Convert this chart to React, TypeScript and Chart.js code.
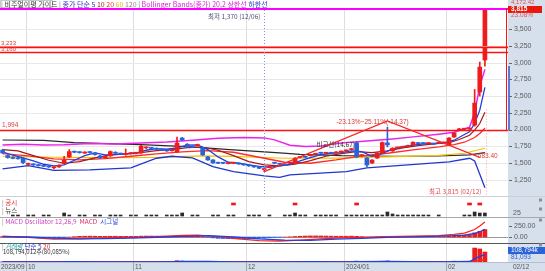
import React, { useEffect, useRef } from 'react';
import { Chart, registerables } from 'chart.js';

Chart.register(...registerables);

// ---------------- data ----------------
const dates = [
  '09/21', '09/22', '09/25', '09/26', '09/27',
  '10/02', '10/03', '10/04', '10/05', '10/06', '10/10', '10/11', '10/12', '10/13', '10/16', '10/17', '10/18', '10/19', '10/20', '10/23', '10/24', '10/25', '10/26', '10/27', '10/30', '10/31',
  '11/01', '11/02', '11/03', '11/06', '11/07', '11/08', '11/09', '11/10', '11/13', '11/14', '11/15', '11/16', '11/17', '11/20', '11/21', '11/22', '11/23', '11/24', '11/27', '11/28', '11/29', '11/30',
  '12/01', '12/04', '12/05', '12/06', '12/07', '12/08', '12/11', '12/12', '12/13', '12/14', '12/15', '12/18', '12/19', '12/20', '12/21', '12/22', '12/26', '12/27', '12/28',
  '01/04', '01/05', '01/08', '01/09', '01/10', '01/11', '01/12', '01/15', '01/16', '01/17', '01/18', '01/19', '01/22', '01/23', '01/24', '01/25', '01/26', '01/29', '01/30', '01/31',
  '02/01', '02/02', '02/05', '02/06', '02/07', '02/08', '02/09', '02/12',
];
const futureSlots = ['', '', '', ''];

const openP = [1690, 1610, 1582, 1570, 1572, 1478, 1482, 1470, 1458, 1448, 1428, 1440, 1490, 1590, 1668, 1660, 1648, 1665, 1650, 1605, 1575, 1605, 1660, 1640, 1628, 1640, 1645, 1650, 1725, 1722, 1720, 1700, 1690, 1682, 1665, 1872, 1780, 1745, 1760, 1723, 1590, 1545, 1505, 1500, 1490, 1495, 1495, 1480, 1465, 1450, 1435, 1400, 1432, 1505, 1490, 1470, 1494, 1498, 1582, 1590, 1608, 1630, 1655, 1645, 1650, 1650, 1665, 1680, 1700, 1800, 1610, 1573, 1498, 1573, 1648, 1800, 1680, 1725, 1735, 1745, 1768, 1800, 1795, 1790, 1785, 1795, 1800, 1768, 1888, 1995, 2005, 2008, 2067, 2561, 3040];
const highP = [1705, 1620, 1592, 1582, 1585, 1498, 1490, 1478, 1466, 1456, 1446, 1472, 1600, 1700, 1678, 1668, 1668, 1672, 1656, 1612, 1606, 1680, 1668, 1648, 1710, 1652, 1658, 1762, 1740, 1732, 1726, 1708, 1696, 1698, 1887, 1882, 1790, 1752, 1782, 1732, 1598, 1550, 1512, 1506, 1508, 1512, 1500, 1486, 1470, 1456, 1440, 1425, 1450, 1512, 1496, 1478, 1504, 1580, 1596, 1598, 1630, 1642, 1660, 1654, 1656, 1670, 1674, 1696, 1718, 1812, 1622, 1580, 1550, 1655, 1815, 2035, 1728, 1736, 1744, 1766, 1816, 1808, 1802, 1802, 1792, 1806, 1812, 1880, 1955, 2018, 2016, 2020, 2600, 3010, 3815];
const lowP = [1640, 1570, 1562, 1555, 1490, 1470, 1462, 1452, 1444, 1432, 1412, 1434, 1482, 1580, 1652, 1646, 1640, 1648, 1618, 1568, 1566, 1598, 1638, 1624, 1615, 1632, 1636, 1642, 1712, 1710, 1698, 1684, 1672, 1676, 1660, 1835, 1732, 1728, 1752, 1612, 1538, 1494, 1488, 1488, 1484, 1490, 1478, 1464, 1448, 1434, 1414, 1370, 1428, 1488, 1474, 1460, 1488, 1492, 1575, 1578, 1602, 1624, 1638, 1638, 1638, 1645, 1658, 1674, 1694, 1580, 1600, 1440, 1490, 1566, 1640, 1740, 1672, 1718, 1726, 1740, 1762, 1784, 1784, 1784, 1774, 1788, 1794, 1760, 1880, 1985, 1998, 2000, 2050, 2500, 2950];
const closeP = [1650, 1580, 1568, 1562, 1505, 1486, 1470, 1460, 1450, 1440, 1438, 1465, 1540, 1670, 1660, 1654, 1660, 1655, 1625, 1575, 1600, 1670, 1645, 1632, 1640, 1645, 1650, 1750, 1730, 1718, 1705, 1690, 1680, 1690, 1798, 1845, 1740, 1735, 1775, 1620, 1545, 1500, 1495, 1495, 1500, 1505, 1485, 1470, 1455, 1440, 1420, 1412, 1445, 1495, 1480, 1468, 1500, 1570, 1590, 1585, 1625, 1635, 1645, 1648, 1645, 1665, 1668, 1690, 1710, 1590, 1615, 1469, 1543, 1648, 1805, 1770, 1720, 1730, 1738, 1760, 1810, 1790, 1790, 1795, 1780, 1800, 1805, 1873, 1948, 2010, 2010, 2012, 2396, 2934, 3815];

// moving averages / bands: [candle index, value]
const ma5: [number, number][] = [[0, 1665], [2, 1615], [4, 1575], [6, 1530], [8, 1480], [10, 1455], [12, 1470], [14, 1540], [16, 1610], [18, 1650], [20, 1620], [22, 1625], [24, 1635], [26, 1645], [28, 1690], [30, 1715], [32, 1705], [34, 1725], [36, 1765], [38, 1770], [40, 1700], [42, 1590], [44, 1510], [46, 1495], [48, 1472], [50, 1448], [52, 1435], [54, 1458], [56, 1478], [58, 1530], [60, 1580], [62, 1625], [64, 1645], [66, 1655], [68, 1680], [70, 1670], [72, 1600], [74, 1640], [76, 1710], [78, 1745], [80, 1765], [82, 1785], [84, 1792], [86, 1795], [88, 1840], [90, 1925], [91, 1965], [92, 2090], [93, 2290], [94, 2630]];
const ma10: [number, number][] = [[0, 1700], [3, 1680], [6, 1610], [9, 1540], [12, 1495], [15, 1520], [18, 1575], [21, 1620], [24, 1635], [27, 1655], [30, 1685], [33, 1700], [36, 1730], [39, 1735], [42, 1690], [45, 1610], [48, 1520], [51, 1470], [54, 1455], [57, 1480], [60, 1535], [63, 1600], [66, 1640], [69, 1670], [72, 1655], [75, 1680], [78, 1725], [81, 1760], [84, 1785], [87, 1805], [89, 1850], [91, 1915], [92, 1990], [93, 2090], [94, 2260]];
const ma20: [number, number][] = [[0, 1640], [5, 1605], [10, 1560], [15, 1545], [20, 1565], [25, 1600], [30, 1635], [35, 1665], [40, 1685], [45, 1660], [50, 1585], [55, 1510], [60, 1495], [65, 1545], [70, 1605], [75, 1645], [80, 1695], [85, 1740], [88, 1775], [90, 1810], [92, 1880], [93, 1940], [94, 2020]];
const ma60: [number, number][] = [[0, 1600], [10, 1585], [20, 1578], [30, 1582], [39, 1605], [45, 1598], [55, 1570], [65, 1572], [75, 1590], [85, 1612], [90, 1645], [94, 1720]];
const ma120: [number, number][] = [[0, 1843], [8, 1838], [14, 1805], [27, 1775], [36, 1745], [45, 1695], [54, 1650], [58, 1628], [66, 1608], [76, 1600], [85, 1604], [91, 1620], [94, 1655]];
const bbUpper: [number, number][] = [[0, 1768], [4, 1780], [8, 1770], [12, 1772], [17, 1790], [22, 1785], [27, 1800], [32, 1812], [37, 1840], [42, 1868], [47, 1880], [51, 1875], [53, 1845], [56, 1765], [59, 1745], [62, 1752], [66, 1800], [71, 1830], [76, 1860], [80, 1890], [85, 1930], [88, 1958], [90, 2010], [91, 2035], [92, 2250], [93, 2650], [94, 2900]];
const bbLower: [number, number][] = [[0, 1410], [5, 1460], [10, 1390], [17, 1395], [25, 1425], [30, 1570], [33, 1600], [37, 1575], [41, 1445], [45, 1370], [51, 1305], [54, 1285], [56, 1320], [67, 1370], [71, 1425], [79, 1470], [87, 1515], [91, 1570], [92, 1530], [93, 1330], [94, 1130]];

const priceTicks = [1250, 1500, 1750, 2000, 2250, 2500, 2750, 3000, 3250, 3500];
const priceRange = [1005, 3819];
const highLine = 3815;
const resistLines = [3235, 3160];
const resistLabels = ['3,233', '3,160'];
const baseLine = 1994;
const baseLabel = '1,994';
const lowIndex = 51;
const lowText = '최저 1,370 (12/06)';
const highText = '최고 3,815 (02/12)';
const triangle: [number, number][] = [[51, 1370], [75, 2130], [93, 1583.4]];
const triangleText = '-23.13%~25.11%(-14.37)';
const compareText = '비교선(14.67)';
const triangleEndText = '583.40';

// MACD
const macdOsc = [10, 8, 5, 2, -5, -10, -15, -20, -22, -25, -25, -20, -10, 0, 8, 15, 18, 20, 18, 15, 15, 17, 18, 16, 15, 15, 15, 20, 22, 22, 20, 18, 16, 16, 25, 30, 28, 25, 20, 10, -5, -20, -30, -35, -38, -40, -40, -40, -38, -35, -30, -25, -15, -10, -5, 0, 5, 12, 18, 22, 25, 25, 24, 22, 20, 18, 18, 18, 20, 15, 8, 0, 2, 8, 15, 15, 14, 12, 12, 13, 14, 13, 12, 10, 9, 10, 10, 20, 30, 40, 45, 50, 95, 130, 170];
const macdLine: [number, number][] = [[0, 20], [5, -10], [10, -50], [15, -40], [20, -20], [25, -10], [30, 10], [35, 35], [38, 40], [42, 10], [46, -40], [50, -80], [54, -90], [58, -70], [62, -40], [66, -20], [70, -10], [75, 10], [80, 20], [85, 30], [88, 60], [90, 90], [92, 170], [93, 250], [94, 340]];
const macdSignal: [number, number][] = [[0, 10], [5, 0], [10, -25], [15, -40], [20, -35], [25, -25], [30, -5], [35, 15], [40, 30], [45, 5], [50, -40], [55, -70], [60, -75], [65, -50], [70, -30], [75, -10], [80, 5], [85, 20], [88, 30], [90, 45], [92, 80], [93, 120], [94, 175]];
const macdTicks = [0, 250];
const macdRange = [-136, 455];

// volume (thousand shares)
const volume = [2100, 2600, 1500, 1300, 3100, 1600, 1400, 1200, 1300, 1500, 1800, 2200, 6500, 4800, 1900, 1300, 1400, 1200, 1500, 2300, 1800, 3600, 1700, 1300, 2500, 1200, 1100, 5200, 2600, 1600, 1400, 1200, 1100, 1300, 14800, 11500, 4200, 2100, 2600, 5600, 4300, 3600, 1800, 1300, 1200, 1500, 1400, 1300, 1200, 1100, 1500, 2200, 2400, 2100, 1600, 1200, 1500, 4600, 2800, 1700, 2300, 1500, 1600, 1200, 1100, 1700, 1300, 1900, 2300, 9800, 2900, 5200, 3800, 4100, 8700, 11800, 3900, 1700, 1500, 1900, 4300, 2100, 1500, 1400, 1300, 1600, 1700, 7200, 9100, 5400, 3100, 3300, 152000, 142000, 108794];
const volMa5: [number, number][] = [[0, 2300], [10, 1500], [14, 3300], [20, 2000], [30, 2300], [34, 4600], [36, 7000], [40, 5600], [45, 1900], [55, 1700], [60, 2500], [66, 1400], [69, 3500], [75, 6700], [80, 2700], [86, 1500], [88, 4000], [91, 5600], [92, 34000], [93, 62000], [94, 81093]];
const volMa20: [number, number][] = [[0, 2000], [20, 2100], [40, 3200], [60, 1800], [80, 3000], [91, 3300], [92, 10800], [93, 17800], [94, 23000]];
const volMax = 207000;

// news / disclosures
const newsCount = [0, 0, 1, 1, 0, 1, 1, 0, 1, 1, 0, 0, 3, 1, 0, 1, 1, 0, 1, 1, 0, 1, 1, 1, 0, 1, 1, 0, 1, 1, 1, 0, 1, 1, 1, 3, 0, 1, 1, 0, 0, 1, 1, 0, 1, 1, 0, 0, 1, 1, 1, 0, 1, 0, 0, 1, 1, 3, 1, 1, 0, 1, 1, 1, 1, 1, 0, 1, 1, 1, 1, 1, 1, 1, 1, 4, 2, 1, 1, 1, 1, 1, 1, 1, 0, 1, 0, 0, 0, 0, 1, 1, 4, 3, 3];
const disclosureAt = [45, 57, 69, 91, 93];

const monthTickLabels = ['2023/09', '10', '11', '12', '2024/01', '02'];
const lastDateLabel = '02/12';

// ---------------- style ----------------
const W = 545;
const AXIS_W = 37;
const UP = '#ee1c1c';
const DOWN = '#2a62d8';
const AXIS_BG = '#d6e0ec';
const GRID = '#dedede';
const KF = '"Noto Sans CJK KR", "Liberation Sans", sans-serif';
const NF = '"Liberation Sans", Arial, sans-serif';

const labels = [...dates, ...futureSlots];
const candleColor = openP.map((o, i) => (closeP[i] >= o ? UP : DOWN));
const pts = (arr: [number, number][]) => arr.map(([i, v]) => ({ x: dates[i], y: v }));

function monthStarts(): number[] {
  const out: number[] = [];
  for (let i = 1; i < dates.length; i++) if (dates[i].slice(0, 2) !== dates[i - 1].slice(0, 2)) out.push(i);
  return out;
}

function frame(chart: any, gridTop?: number) {
  const { ctx, chartArea: a, scales } = chart;
  const x = scales.x;
  ctx.save();
  ctx.fillStyle = '#fff';
  ctx.fillRect(0, 0, chart.width, chart.height);
  ctx.fillStyle = AXIS_BG;
  ctx.fillRect(a.right, 0, chart.width - a.right, chart.height);
  ctx.strokeStyle = GRID;
  ctx.lineWidth = 1;
  for (const i of monthStarts()) {
    const px = Math.round((x.getPixelForValue(i - 1) + x.getPixelForValue(i)) / 2) + 0.5;
    ctx.beginPath();
    ctx.moveTo(px, gridTop ?? a.top);
    ctx.lineTo(px, a.bottom);
    ctx.stroke();
  }
  ctx.restore();
}

function text(ctx: any, s: string, x: number, y: number, color: string, font: string, align: CanvasTextAlign = 'left') {
  ctx.font = font;
  ctx.fillStyle = color;
  ctx.textAlign = align;
  ctx.textBaseline = 'middle';
  ctx.fillText(s, x, y);
}

function runs(ctx: any, x: number, y: number, parts: [string, string][], font: string) {
  ctx.font = font;
  ctx.textAlign = 'left';
  ctx.textBaseline = 'middle';
  for (const [s, c] of parts) {
    ctx.fillStyle = c;
    ctx.fillText(s, x, y);
    x += ctx.measureText(s).width;
  }
  return x;
}

function hline(ctx: any, y: number, x0: number, x1: number, color: string, w = 1) {
  ctx.strokeStyle = color;
  ctx.lineWidth = w;
  ctx.beginPath();
  ctx.moveTo(x0, y);
  ctx.lineTo(x1, y);
  ctx.stroke();
}

function square(ctx: any, y: number) {
  ctx.fillStyle = '#8a8f96';
  ctx.fillRect(539, y - 1.5, 3, 3);
}

function axisTick(ctx: any, a: any, y: number, s: string) {
  hline(ctx, Math.round(y) + 0.5, a.right + 1, a.right + 4, '#666');
  text(ctx, s, a.right + 6, y, '#5a5a5a', `7px ${NF}`);
}

const baseOptions = (pad: any, yMin: number, yMax: number) => ({
  responsive: false,
  maintainAspectRatio: false,
  animation: false as const,
  events: [] as any[],
  layout: { padding: { left: 0, top: 0, bottom: 0, right: AXIS_W, ...pad } },
  plugins: { legend: { display: false }, tooltip: { enabled: false } },
  scales: {
    x: { type: 'category' as const, offset: true, display: false },
    y: { type: 'linear' as const, display: false, min: yMin, max: yMax },
  },
});

const lineDs = (arr: [number, number][], color: string, width = 1, order = 5) => ({
  type: 'line' as const,
  data: pts(arr),
  borderColor: color,
  borderWidth: width,
  pointRadius: 0,
  tension: 0,
  order,
});

// ---------------- charts ----------------
function priceChart(canvas: HTMLCanvasElement) {
  return new Chart(canvas, {
    type: 'bar',
    data: {
      labels,
      datasets: [
        { type: 'bar', data: openP.map((o, i) => [o, closeP[i]]), backgroundColor: candleColor, barThickness: 4, minBarLength: 1, grouped: false, order: 0 } as any,
        { type: 'bar', data: lowP.map((l, i) => [l, highP[i]]), backgroundColor: candleColor, barThickness: 1, grouped: false, order: 1 } as any,
        lineDs(ma120, '#2a2a2a', 1.2, 9),
        lineDs(ma60, '#f2c200', 1.2, 8),
        lineDs(bbLower, '#2236d0', 1.3, 7),
        lineDs(bbUpper, '#ea22ea', 1.5, 6),
        lineDs(ma20, '#ff2a2a', 1.3, 5),
        lineDs(ma10, '#a01c1c', 1.2, 4),
        lineDs(ma5, '#1e3fe0', 1.3, 3),
      ],
    },
    options: baseOptions({ top: 8 }, priceRange[0], priceRange[1]) as any,
    plugins: [
      {
        id: 'priceFrame',
        beforeDraw(chart: any) {
          frame(chart);
          const { ctx, chartArea: a, scales } = chart;
          ctx.save();
          for (const t of priceTicks) hline(ctx, Math.round(scales.y.getPixelForValue(t)) + 0.5, a.left, a.right, '#e8e8e8');
          ctx.restore();
        },
        afterDraw(chart: any) {
          const { ctx, chartArea: a, scales } = chart;
          const x = scales.x;
          const y = scales.y;
          ctx.save();
          // header
          ctx.strokeStyle = '#c8c8c8';
          ctx.lineWidth = 1;
          ctx.strokeRect(0.5, 0.5, 52, 7);
          runs(ctx, 1, 4, [
            ['| ', '#777'], ['비주얼이평 가이드', '#333'], [' | ', '#777'],
            ['종가 단순 ', '#2a2ad0'], ['5 ', '#2a2ad0'], ['10 ', '#a01c1c'], ['20 ', '#ff2a2a'], ['60 ', '#e3b800'], ['120', '#8c8c8c'],
            [' | ', '#777'], ['Bollinger Bands(종가) 20,2 ', '#d81ed8'], ['상한선 ', '#d81ed8'], ['하한선', '#2236d0'],
          ], `7px ${KF}`);
          // high line (magenta)
          ctx.fillStyle = '#ff00ff';
          ctx.fillRect(a.left, Math.round(y.getPixelForValue(highLine)), a.right - a.left, 2);
          // resistance lines
          const r0 = Math.round(y.getPixelForValue(resistLines[0])) + 0.5;
          hline(ctx, r0 - 1, a.left, a.right, '#ffa0a0', 1);
          hline(ctx, r0, a.left, a.right, '#ff1010', 1.3);
          hline(ctx, Math.round(y.getPixelForValue(resistLines[1])) + 0.5, a.left, a.right, '#ff1010', 1.3);
          text(ctx, resistLabels[0], 1, r0 - 4, '#e03a3a', `6px ${NF}`);
          text(ctx, resistLabels[1], 1, r0 + 2, '#e03a3a', `6px ${NF}`);
          // base line
          const b = Math.round(y.getPixelForValue(baseLine)) + 0.5;
          hline(ctx, b, a.left, a.right, '#ff1010', 1.4);
          text(ctx, baseLabel, 2, b - 5.5, '#e03a3a', `6.5px ${NF}`);
          // box right edge
          ctx.strokeStyle = '#ff1010';
          ctx.lineWidth = 1;
          ctx.beginPath();
          ctx.moveTo(a.right - 1.5, y.getPixelForValue(highLine));
          ctx.lineTo(a.right - 1.5, b);
          ctx.stroke();
          ctx.strokeStyle = '#2a5bd8';
          ctx.lineWidth = 1.5;
          ctx.beginPath();
          ctx.moveTo(a.right + 1, y.getPixelForValue(2950));
          ctx.lineTo(a.right + 1, b);
          ctx.stroke();
          // triangle
          ctx.strokeStyle = '#f22a2a';
          ctx.lineWidth = 1.3;
          ctx.beginPath();
          triangle.forEach(([i, v], k) => {
            const px = x.getPixelForValue(i);
            const py = y.getPixelForValue(v);
            if (k === 0) ctx.moveTo(px, py); else ctx.lineTo(px, py);
          });
          ctx.stroke();
          const apex = triangle[1];
          text(ctx, triangleText, x.getPixelForValue(apex[0]) - 51, y.getPixelForValue(apex[1]) + 1, '#e03a3a', `6.5px ${NF}`);
          text(ctx, compareText, x.getPixelForValue(apex[0]) - 71, y.getPixelForValue(1780), '#333', `6.5px ${KF}`);
          const end = triangle[2];
          text(ctx, triangleEndText, x.getPixelForValue(end[0]) - 2, y.getPixelForValue(end[1]) - 1, '#e03a3a', `6.5px ${NF}`);
          // low marker
          const lx = Math.round(x.getPixelForValue(lowIndex)) + 0.5;
          ctx.strokeStyle = '#8c8ce6';
          ctx.lineWidth = 1;
          ctx.setLineDash([1, 2]);
          ctx.beginPath();
          ctx.moveTo(lx, a.top + 2);
          ctx.lineTo(lx, a.bottom);
          ctx.stroke();
          const hx = Math.round(x.getPixelForValue(dates.length - 1)) + 1.5;
          ctx.strokeStyle = '#f2a0a0';
          ctx.beginPath();
          ctx.moveTo(hx, y.getPixelForValue(2300));
          ctx.lineTo(hx, a.bottom);
          ctx.stroke();
          ctx.setLineDash([]);
          text(ctx, lowText, lx - 4, 17, '#4a5170', `6.5px ${KF}`, 'right');
          text(ctx, highText, hx - 5, a.bottom - 4, '#e04848', `6.5px ${KF}`, 'right');
          // right axis
          for (const t of priceTicks) axisTick(ctx, a, y.getPixelForValue(t), t.toLocaleString('en-US'));
          text(ctx, '4,172.42', a.right + 3, 2, '#e05050', `6px ${NF}`);
          ctx.fillStyle = '#e8180e';
          ctx.fillRect(a.right, 6, 34, 7);
          text(ctx, '3,815', a.right + 3, 9.6, '#fff', `bold 6.5px ${NF}`);
          text(ctx, '23.08%', a.right + 3, 15.5, '#e05050', `6.5px ${NF}`);
          ctx.restore();
        },
      } as any,
    ],
  });
}

function newsChart(canvas: HTMLCanvasElement) {
  const disc = dates.map((_, i) => (disclosureAt.includes(i) ? [11, 13] : null));
  return new Chart(canvas, {
    type: 'bar',
    data: {
      labels,
      datasets: [
        { type: 'bar', data: disc, backgroundColor: '#f01818', barThickness: 4, grouped: false, order: 0 } as any,
        { type: 'bar', data: newsCount.map((n) => (n > 0 ? n : null)), backgroundColor: '#2a2a2a', barThickness: 3, grouped: false, order: 1 } as any,
      ],
    },
    options: baseOptions({}, -1, 20) as any,
    plugins: [
      {
        id: 'newsFrame',
        beforeDraw(chart: any) {
          frame(chart);
          hline(chart.ctx, 0.5, 0, W, '#d0d0d0');
        },
        afterDraw(chart: any) {
          const { ctx, chartArea: a } = chart;
          ctx.save();
          runs(ctx, 2, 7, [['| ', '#888'], ['공시', '#e03030']], `6.5px ${KF}`);
          runs(ctx, 2, 15, [['| ', '#888'], ['뉴스', '#333']], `6.5px ${KF}`);
          square(ctx, 4);
          square(ctx, 13);
          text(ctx, '25', a.right + 5, 17, '#5a5a5a', `7px ${NF}`);
          ctx.restore();
        },
      } as any,
    ],
  });
}

function macdChart(canvas: HTMLCanvasElement) {
  return new Chart(canvas, {
    type: 'bar',
    data: {
      labels,
      datasets: [
        lineDs(macdLine, '#ff2222', 1.3, 1),
        lineDs(macdSignal, '#2040e0', 1.3, 0),
        { type: 'bar', data: macdOsc, backgroundColor: macdOsc.map((v) => (v >= 0 ? UP : DOWN)), barThickness: 4, grouped: false, order: 3 } as any,
      ],
    },
    options: baseOptions({}, macdRange[0], macdRange[1]) as any,
    plugins: [
      {
        id: 'macdFrame',
        beforeDraw(chart: any) {
          frame(chart);
          const { ctx, chartArea: a, scales } = chart;
          hline(ctx, 0.5, 0, W, '#a8a8a8');
          hline(ctx, Math.round(scales.y.getPixelForValue(0)) + 0.5, a.left, a.right, '#9a9a9a');
        },
        afterDraw(chart: any) {
          const { ctx, chartArea: a, scales } = chart;
          ctx.save();
          runs(ctx, 2, 5, [['| ', '#888'], ['MACD Oscillator 12,26,9  ', '#cc3cc0'], ['MACD  ', '#e0206a'], ['시그널', '#3040e0']], `6.5px ${KF}`);
          square(ctx, 3);
          for (const t of macdTicks) axisTick(ctx, a, scales.y.getPixelForValue(t), t.toFixed(2));
          ctx.restore();
        },
      } as any,
    ],
  });
}

function volumeChart(canvas: HTMLCanvasElement) {
  return new Chart(canvas, {
    type: 'bar',
    data: {
      labels,
      datasets: [
        lineDs(volMa5, '#2040e0', 1.3, 0),
        lineDs(volMa20, '#ff2222', 1.5, 1),
        { type: 'bar', data: volume, backgroundColor: candleColor, barThickness: 4, grouped: false, order: 3 } as any,
      ],
    },
    options: baseOptions({ bottom: 9 }, 0, volMax) as any,
    plugins: [
      {
        id: 'volFrame',
        beforeDraw(chart: any) {
          frame(chart);
          hline(chart.ctx, 0.5, 0, W, '#555');
        },
        afterDraw(chart: any) {
          const { ctx, chartArea: a, scales } = chart;
          const x = scales.x;
          ctx.save();
          runs(ctx, 2, 4, [['| ', '#888'], ['거래량 ', '#1f9aa0'], ['단순 5 ', '#2a2ad0'], ['20', '#e03030']], `6.5px ${KF}`);
          text(ctx, '108,794,012주(80,085%)', 3, 9, '#333', `6px ${KF}`);
          square(ctx, 2);
          ctx.fillStyle = '#2a62d8';
          ctx.fillRect(a.right, 4, AXIS_W, 7);
          text(ctx, '108,794k', a.right + 3, 7.6, '#fff', `6.5px ${NF}`);
          text(ctx, '81,093', a.right + 3, 14, '#2a62d8', `6.5px ${NF}`);
          // x band
          const bandTop = a.bottom;
          ctx.fillStyle = AXIS_BG;
          ctx.fillRect(0, bandTop, W, chart.height - bandTop);
          hline(ctx, bandTop + 0.5, 0, W, '#b4c0cf');
          const starts = monthStarts();
          text(ctx, monthTickLabels[0], 1, bandTop + 5, '#555', `6.5px ${NF}`);
          starts.forEach((i, k) => {
            const px = (x.getPixelForValue(i - 1) + x.getPixelForValue(i)) / 2;
            hline(ctx, 0, 0, 0, '#000', 0);
            ctx.strokeStyle = '#9aa6b4';
            ctx.lineWidth = 1;
            ctx.beginPath();
            ctx.moveTo(Math.round(px) + 0.5, bandTop);
            ctx.lineTo(Math.round(px) + 0.5, chart.height);
            ctx.stroke();
            text(ctx, monthTickLabels[k + 1], Math.round(px) + 2, bandTop + 5, '#555', `6.5px ${NF}`);
          });
          text(ctx, lastDateLabel, a.right + 5, bandTop + 5, '#555', `6.5px ${NF}`);
          ctx.restore();
        },
      } as any,
    ],
  });
}

export default function App() {
  const priceRef = useRef<HTMLCanvasElement>(null);
  const newsRef = useRef<HTMLCanvasElement>(null);
  const macdRef = useRef<HTMLCanvasElement>(null);
  const volRef = useRef<HTMLCanvasElement>(null);

  useEffect(() => {
    const charts = [
      priceChart(priceRef.current!),
      newsChart(newsRef.current!),
      macdChart(macdRef.current!),
      volumeChart(volRef.current!),
    ];
    return () => charts.forEach((c) => c.destroy());
  }, []);

  const cs = (top: number, h: number): React.CSSProperties => ({ position: 'absolute', left: 0, top, width: W, height: h, display: 'block' });

  return (
    <div style={{ position: 'fixed', left: 0, top: 0, width: W, height: 271, background: '#fff', overflow: 'hidden' }}>
      <canvas ref={priceRef} width={W} height={196} style={cs(0, 196)} />
      <canvas ref={newsRef} width={W} height={21} style={cs(196, 21)} />
      <canvas ref={macdRef} width={W} height={26} style={cs(217, 26)} />
      <canvas ref={volRef} width={W} height={28} style={cs(243, 28)} />
    </div>
  );
}
